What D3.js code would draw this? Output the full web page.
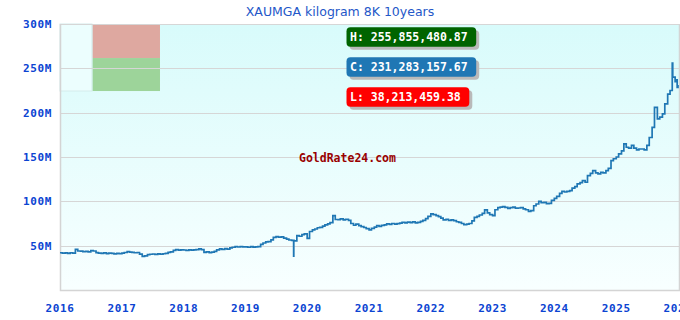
<!DOCTYPE html>
<html><head><meta charset="utf-8">
<script src="https://cdn.jsdelivr.net/npm/d3@7"></script>
<style>html,body{margin:0;padding:0;background:#fff;overflow:hidden}</style>
</head><body><svg id="c" width="680" height="320"></svg>
<script>
// ---- data (values in millions MGA) ----
const title = "XAUMGA kilogram 8K 10years";
const years = [2016, 2017, 2018, 2019, 2020, 2021, 2022, 2023, 2024, 2025];
// semi-monthly readings (1st and 15th of each month)
const v2016 = [42.0, 41.5, 41.9, 41.4, 42.0, 41.6, 45.8, 44.0, 43.8, 43.3, 43.6, 43.1, 44.4, 44.0, 42.2, 41.6, 41.2, 41.8, 41.0, 41.5, 41.2, 40.8, 41.4, 41.0];
const v2017 = [41.5, 42.3, 43.2, 42.8, 42.4, 42.0, 42.3, 40.5, 37.9, 38.6, 39.8, 40.3, 40.6, 40.1, 40.8, 40.4, 40.9, 41.2, 42.5, 43.0, 44.6, 45.5, 45.0, 45.3];
const v2018 = [45.1, 44.8, 45.3, 44.9, 45.2, 45.6, 46.3, 45.5, 42.4, 42.9, 42.2, 42.8, 43.6, 45.2, 46.3, 45.8, 46.6, 46.0, 47.5, 48.2, 48.9, 48.5, 48.9, 48.6];
const v2019 = [48.6, 48.2, 48.9, 48.4, 48.7, 49.0, 51.5, 53.0, 54.2, 54.6, 56.5, 59.4, 60.2, 59.6, 60.0, 58.6, 57.4, 56.4, 56.0, 55.4, 61.3, 60.6, 62.4, 63.2];
const v2020 = [58.2, 66.0, 67.7, 68.8, 70.2, 70.7, 72.0, 73.4, 74.5, 76.0, 83.9, 79.5, 79.3, 80.2, 79.0, 79.8, 78.5, 75.0, 73.0, 74.4, 72.6, 71.5, 70.5, 69.2];
const v2021 = [67.7, 69.5, 71.0, 72.6, 71.8, 72.8, 73.5, 74.5, 74.0, 75.0, 74.2, 74.8, 75.5, 76.3, 75.6, 76.5, 76.0, 76.8, 75.8, 76.3, 77.5, 78.5, 80.5, 83.0];
const v2022 = [85.8, 85.0, 83.9, 82.7, 81.0, 79.0, 79.8, 78.6, 79.2, 78.2, 77.0, 76.3, 75.0, 73.7, 74.2, 75.0, 78.0, 82.0, 83.0, 84.6, 86.5, 90.3, 87.0, 85.0];
const v2023 = [83.9, 90.5, 92.8, 93.5, 94.0, 93.2, 92.0, 92.8, 93.4, 92.4, 92.5, 93.0, 91.4, 90.5, 88.7, 89.5, 95.0, 97.0, 99.9, 98.5, 98.9, 97.5, 97.7, 101.0];
const v2024 = [103.4, 105.5, 109.0, 111.3, 110.5, 111.3, 112.0, 115.0, 116.6, 119.6, 121.0, 123.4, 121.5, 129.0, 131.5, 134.7, 132.0, 131.0, 132.7, 132.0, 134.7, 137.2, 146.0, 148.0];
const v2025 = [150.0, 153.5, 157.0, 164.8, 161.0, 160.0, 163.0, 160.0, 158.0, 159.0, 159.0, 158.0, 163.0, 172.0, 183.5, 206.0, 193.0, 195.0, 198.6, 210.0, 221.0, 225.0, 240.0, 235.0];
const yearValues = [v2016, v2017, v2018, v2019, v2020, v2021, v2022, v2023, v2024, v2025];
// extra readings (spikes and latest)
const extraDates = ["2019-10-12", "2019-10-13", "2019-10-14", "2025-11-28", "2025-12-20", "2025-12-27", "2026-01-01"];
const extraValues = [55.6, 38.21, 56.0, 255.86, 237.0, 228.6, 231.28];

const yTicks = [50, 100, 150, 200, 250, 300];
const xTickYears = [2016, 2017, 2018, 2019, 2020, 2021, 2022, 2023, 2024, 2025, 2026];
const summaryLabels = ["H: 255,855,480.87", "C: 231,283,157.67", "L: 38,213,459.38"];
const summaryColors = ["#006400", "#1f77b4", "#ff0000"];
const watermark = "GoldRate24.com";
// corner range boxes
const cornerFrom = ["2016-01-01", "2016-07-12", "2016-07-12"];
const cornerTo = ["2016-07-08", "2017-08-14", "2017-08-14"];
const cornerLow = [224.4, 261.6, 224.4];
const cornerHigh = [300, 299, 261.6];
const cornerColors = ["#ecfefe", "#dea8a0", "#9dd49a"];

// ---- build series ----
const parse = d3.timeParse("%Y-%m-%d");
let series = [];
years.forEach((yr, yi) => {
  yearValues[yi].forEach((v, i) => {
    const m = Math.floor(i / 2), day = i % 2 ? 15 : 1;
    series.push({ date: new Date(yr, m, day), value: v });
  });
});
extraDates.forEach((d, i) => series.push({ date: parse(d), value: extraValues[i] }));
series.sort((a, b) => a.date - b.date);

// ---- layout ----
const L = 60, R = 679, T = 24, B = 290;
const svg = d3.select("#c");
const x = d3.scaleTime().domain([new Date(2016, 0, 1), new Date(2026, 0, 1)]).range([L, 678]);
const y = d3.scaleLinear().domain([0, 300]).range([B, T]);

const defs = svg.append("defs");
const grad = defs.append("linearGradient").attr("id", "bg").attr("x1", 0).attr("y1", 0).attr("x2", 0).attr("y2", 1);
grad.append("stop").attr("offset", "0%").attr("stop-color", "#d8fbfb");
grad.append("stop").attr("offset", "100%").attr("stop-color", "#f8ffff");
defs.append("clipPath").attr("id", "clip").append("rect").attr("x", L).attr("y", T).attr("width", R - L).attr("height", B - T);

svg.append("rect").attr("x", L).attr("y", T).attr("width", R - L).attr("height", B - T).attr("fill", "url(#bg)");

// corner boxes
svg.append("g").selectAll("rect").data(cornerColors).join("rect")
  .attr("x", (c, i) => x(parse(cornerFrom[i])))
  .attr("width", (c, i) => x(parse(cornerTo[i])) - x(parse(cornerFrom[i])))
  .attr("y", (c, i) => y(cornerHigh[i]))
  .attr("height", (c, i) => y(cornerLow[i]) - y(cornerHigh[i]))
  .attr("fill", c => c)
  .attr("stroke", (c, i) => i === 0 ? "#d4ecec" : "none");

// grid
svg.append("g").selectAll("line").data(yTicks).join("line")
  .attr("x1", L).attr("x2", R).attr("y1", d => Math.round(y(d)) + 0.5).attr("y2", d => Math.round(y(d)) + 0.5)
  .attr("stroke", "#d6d6d6").attr("stroke-width", 1);

// frame
svg.append("path").attr("d", `M${L + 0.5},${T}V${B + 0.5}H${R + 0.5}V${T}`)
  .attr("fill", "none").attr("stroke", "#d4d4d4").attr("stroke-width", 1.5);

// axes labels
const tickFont = "'DejaVu Sans Mono', monospace";
svg.append("g").selectAll("text").data(yTicks).join("text")
  .attr("x", 52).attr("y", d => y(d) + 4)
  .attr("text-anchor", "end").attr("font-family", tickFont).attr("font-weight", "bold")
  .attr("font-size", 11).attr("letter-spacing", 0.6).attr("fill", "#0b44d2")
  .text(d => d + "M");
svg.append("g").selectAll("text").data(xTickYears).join("text")
  .attr("x", d => x(new Date(d, 0, 1))).attr("y", 312)
  .attr("text-anchor", "middle").attr("font-family", tickFont).attr("font-weight", "bold")
  .attr("font-size", 11).attr("letter-spacing", 0.6).attr("fill", "#0b44d2")
  .text(d => d);

// title
svg.append("text").attr("x", 340).attr("y", 15.5).attr("text-anchor", "middle")
  .attr("font-family", "'DejaVu Sans', sans-serif").attr("font-size", 12.5).attr("fill", "#2457c8")
  .text(title);

// watermark
svg.append("text").attr("x", 299).attr("y", 162).attr("font-family", tickFont).attr("font-weight", "bold")
  .attr("font-size", 11.5).attr("fill", "#990000").text(watermark);

// line
const line = d3.line().curve(d3.curveStepAfter).x(d => x(d.date)).y(d => y(d.value));
svg.append("path").datum(series).attr("clip-path", "url(#clip)")
  .attr("d", line).attr("fill", "none").attr("stroke", "#1f77b4").attr("stroke-width", 1.7);

// summary labels
const boxTops = [27.3, 57.3, 87.3];
summaryLabels.forEach((s, i) => {
  const g = svg.append("g");
  const sh = g.append("rect").attr("fill", "#b9b9b9").attr("rx", 4);
  const bx = g.append("rect").attr("fill", summaryColors[i]).attr("rx", 4);
  const t = g.append("text").attr("x", 350).attr("y", boxTops[i] + 14)
    .attr("font-family", tickFont).attr("font-weight", "bold").attr("font-size", 11.5)
    .attr("fill", "#fff").text(s);
  const w = t.node().getComputedTextLength() + 12;
  bx.attr("x", 346.5).attr("y", boxTops[i]).attr("width", w).attr("height", 19.5);
  sh.attr("x", 349.5).attr("y", boxTops[i] + 3).attr("width", w).attr("height", 19.5);
});
</script></body></html>
